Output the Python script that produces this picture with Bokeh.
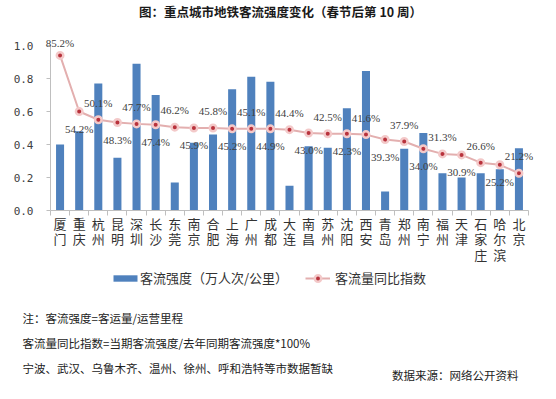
from bokeh.plotting import figure
from bokeh.models import (ColumnDataSource, FixedTicker, Label, LabelSet, Legend, LegendItem, Range1d)
from bokeh.embed import file_html
from bokeh.resources import INLINE

cities = ["厦门", "重庆", "杭州", "昆明", "深圳", "长沙", "东莞", "南京", "合肥", "上海",
          "广州", "成都", "大连", "南昌", "苏州", "沈阳", "西安", "青岛", "郑州", "南宁",
          "福州", "天津", "石家庄", "哈尔滨", "北京"]
intensity = [0.40, 0.48, 0.77, 0.32, 0.89, 0.70, 0.17, 0.41, 0.46, 0.735,
             0.81, 0.78, 0.15, 0.39, 0.38, 0.62, 0.845, 0.115, 0.375, 0.47,
             0.226, 0.20, 0.226, 0.25, 0.377]
index_vals = [0.94, 0.60, 0.55, 0.533, 0.525, 0.52, 0.505, 0.50, 0.50, 0.495,
              0.495, 0.495, 0.49, 0.47, 0.465, 0.465, 0.46, 0.43, 0.418, 0.374,
              0.343, 0.337, 0.29, 0.277, 0.226]
index_labels = ["85.2%", "54.2%", "50.1%", "48.3%", "47.7%", "47.4%", "46.2%", "45.9%",
                "45.8%", "45.2%", "45.1%", "44.9%", "44.4%", "43.0%", "42.5%", "42.3%",
                "41.6%", "39.3%", "37.9%", "34.0%", "31.3%", "30.9%", "26.6%", "25.2%", "21.2%"]
y_ticks = [0.0, 0.2, 0.4, 0.6, 0.8, 1.0]

title_text = "图：重点城市地铁客流强度变化（春节后第 10 周）"
bar_name = "客流强度（万人次/公里）"
line_name = "客流量同比指数"
notes = ["注：客流强度=客运量/运营里程",
         "客流量同比指数=当期客流强度/去年同期客流强度*100%",
         "宁波、武汉、乌鲁木齐、温州、徐州、呼和浩特等市数据暂缺"]
source_text = "数据来源：网络公开资料"

n = len(cities)
xs = list(range(n))
offsets = [(12 if i == 0 else (17 if i % 2 == 0 else -17)) for i in range(n)]
src = ColumnDataSource(dict(x=xs, bar=intensity, idx=index_vals, lab=index_labels, off=offsets))

CJK = "Noto Sans CJK SC"
MONO = "DejaVu Sans Mono"
GRAY = "#BFBFBF"
TXT = "#404040"
BLUE = "#4F81BD"
PINK = "#E3AFAF"

# layout constants (pixels)
W, H = 540, 383
AXIS_X = 50          # y axis position
AXIS_Y = 210         # x axis position (from top)
PX = 478 / n         # pixels per category
Y_PX = 165           # pixels per 1.0

x0 = -0.5 - AXIS_X / PX
y0 = -(H - AXIS_Y) / Y_PX

p = figure(width=W, height=H, output_backend="svg", toolbar_location=None,
           x_range=Range1d(x0, x0 + W / PX), y_range=Range1d(y0, y0 + H / Y_PX),
           min_border=0, min_border_left=0, min_border_right=0,
           min_border_top=0, min_border_bottom=0)
p.outline_line_color = None
p.xgrid.visible = False
p.ygrid.visible = False

bars = p.vbar(x="x", top="bar", width=0.42, source=src, fill_color=BLUE, line_color=None)
ln = p.line(x="x", y="idx", source=src, line_color=PINK, line_width=2)
mk = p.scatter(x="x", y="idx", source=src, size=6.5, fill_color="#B8323C",
               line_color="#F3C9C9", line_width=2.5)

p.add_layout(LabelSet(x="x", y="idx", text="lab", source=src, y_offset="off",
                      text_align="center", text_baseline="middle",
                      text_font=MONO, text_font_size="11px", text_color=TXT))

xa = p.xaxis[0]
xa.fixed_location = 0
xa.ticker = FixedTicker(ticks=xs, minor_ticks=[i - 0.5 for i in range(n + 1)])
xa.bounds = (-0.5, n - 0.5)
xa.major_label_overrides = {i: "\n".join(list(c)) for i, c in enumerate(cities)}
xa.major_tick_out = 0
xa.major_tick_in = 0
xa.minor_tick_out = 5
xa.minor_tick_in = 0
xa.minor_tick_line_color = GRAY
xa.axis_line_color = GRAY
xa.major_label_standoff = -2
xa.major_label_text_font = CJK
xa.major_label_text_font_size = "13px"
xa.major_label_text_line_height = 0.82
xa.major_label_text_color = "#333333"

ya = p.yaxis[0]
ya.fixed_location = -0.5
ya.bounds = (0, 1.0)
ya.ticker = FixedTicker(ticks=y_ticks)
ya.major_label_overrides = {t: f"{t:.1f}" for t in y_ticks}
ya.minor_tick_line_color = None
ya.major_tick_out = 4
ya.major_tick_in = 0
ya.major_tick_line_color = GRAY
ya.axis_line_color = GRAY
ya.major_label_standoff = 13
ya.major_label_text_font = MONO
ya.major_label_text_font_size = "11px"
ya.major_label_text_color = TXT

# title (screen units: from frame bottom-left, y up)
p.add_layout(Label(x=280, y=H - 11, x_units="screen", y_units="screen",
                   text=title_text, text_align="center", text_baseline="middle",
                   text_font=CJK, text_font_style="bold", text_font_size="12.5px",
                   text_color="#1a1a1a"))

common = dict(label_height=8, padding=0, margin=0, spacing=0,
              border_line_color=None, background_fill_alpha=0, label_text_font=CJK,
              label_text_font_size="13px", label_text_color="#333333",
              label_text_baseline="middle")
p.add_layout(Legend(items=[LegendItem(label=bar_name, renderers=[bars])],
                    location=(110, H - 287), glyph_width=30, glyph_height=8,
                    label_standoff=0, **common))
p.add_layout(Legend(items=[LegendItem(label=line_name, renderers=[ln, mk])],
                    location=(305, H - 287), glyph_width=25, glyph_height=16,
                    label_standoff=5, **common))

for k, t in enumerate(notes):
    p.add_layout(Label(x=22, y=H - (317 + 25 * k), x_units="screen", y_units="screen",
                       text=t, text_align="left", text_baseline="middle",
                       text_font=CJK, text_font_size="11.5px", text_color="#222222"))
p.add_layout(Label(x=518, y=H - 374, x_units="screen", y_units="screen",
                   text=source_text, text_align="right", text_baseline="middle",
                   text_font=CJK, text_font_size="11.5px", text_color="#222222"))

open("out.html", "w").write(file_html(p, INLINE))
